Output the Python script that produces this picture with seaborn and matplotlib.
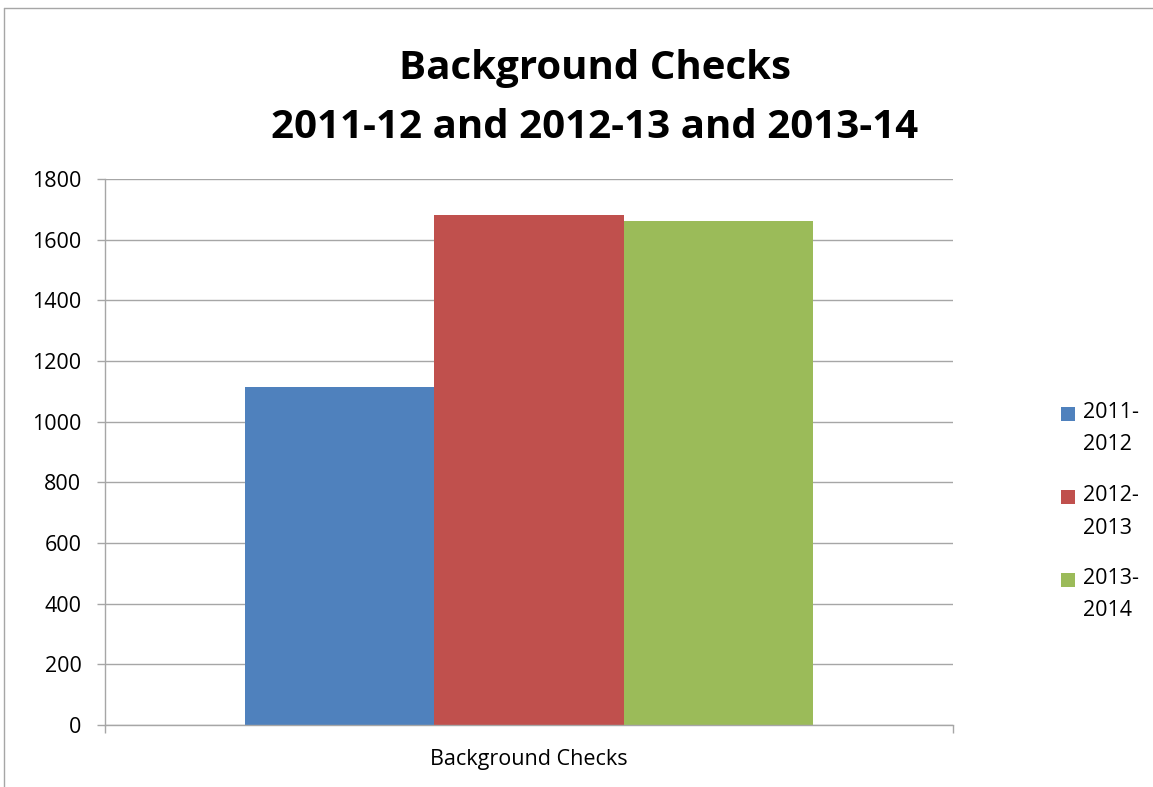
import matplotlib
matplotlib.use("Agg")
import matplotlib.pyplot as plt
import matplotlib.patches as mpatches
import seaborn as sns
import pandas as pd

category = ["Background Checks"]
years = ["2011-2012", "2012-2013", "2013-2014"]
checks = [1113, 1682, 1663]
colors = ["#4F81BD", "#C0504D", "#9BBB59"]
yticks = [0, 200, 400, 600, 800, 1000, 1200, 1400, 1600, 1800]

df = pd.DataFrame({"category": category * len(years), "year": years, "checks": checks})

sns.set_theme(style="white")
plt.rcParams["font.family"] = ["Open Sans", "DejaVu Sans"]

W, H = 1153, 787
fig = plt.figure(figsize=(W / 100, H / 100), dpi=100)
ax = fig.add_axes([105 / W, 1 - 725 / H, (953 - 105) / W, (725 - 179) / H])

sns.barplot(data=df, x="category", y="checks", hue="year", palette=colors,
            width=0.669, gap=0, saturation=1, ax=ax, legend=False, errorbar=None)
for p in ax.patches:
    p.set_edgecolor("none")

grey = "#A6A6A6"
ax.set_xlim(-0.5, 0.5)
ax.set_ylim(0, 1800)
ax.set_yticks(yticks)
ax.set_yticklabels([str(v) for v in yticks], fontsize=15.5, color="black")
ax.set_xticks([-0.5, 0.5])
ax.set_xticklabels(["", ""])
ax.set_xlabel("")
ax.set_ylabel("")
fig.text(529 / W, 1 - 760 / H, category[0], ha="center", va="center",
         fontsize=15.5, color="black")

ax.yaxis.grid(True, color=grey, linewidth=1)
ax.set_axisbelow(True)
for side in ["top", "right"]:
    ax.spines[side].set_visible(False)
for side in ["left", "bottom"]:
    ax.spines[side].set_color(grey)
    ax.spines[side].set_linewidth(1)
ax.tick_params(axis="y", length=6, width=1, color=grey, pad=11, left=True)
ax.tick_params(axis="x", length=6, width=1, color=grey, bottom=True)

fig.text(595 / W, 1 - 68 / H, "Background Checks", ha="center", va="center",
         fontsize=29, fontweight="bold", color="black")
fig.text(595 / W, 1 - 128 / H, "2011-12 and 2012-13 and 2013-14", ha="center",
         va="center", fontsize=29, fontweight="bold", color="black")

# legend: square swatch beside a two-line label
for i, (c, y) in enumerate(zip(colors, years)):
    top = 407 + 83 * i
    fig.add_artist(mpatches.Rectangle((1061 / W, 1 - (top + 14) / H), 14 / W, 14 / H,
                                      transform=fig.transFigure, facecolor=c,
                                      edgecolor="none"))
    first, second = y.split("-")
    fig.text(1083 / W, 1 - (top + 5) / H, first + "-", ha="left", va="center",
             fontsize=15.5, color="black")
    fig.text(1083 / W, 1 - (top + 38) / H, second, ha="left", va="center",
             fontsize=15.5, color="black")

# chart frame
fig.add_artist(plt.Line2D([4 / W, 4 / W], [0, 1 - 8 / H], transform=fig.transFigure,
                          color=grey, linewidth=1))
fig.add_artist(plt.Line2D([4 / W, 1], [1 - 8 / H, 1 - 8 / H], transform=fig.transFigure,
                          color=grey, linewidth=1))

fig.savefig("out.png", dpi=100, facecolor="white")
